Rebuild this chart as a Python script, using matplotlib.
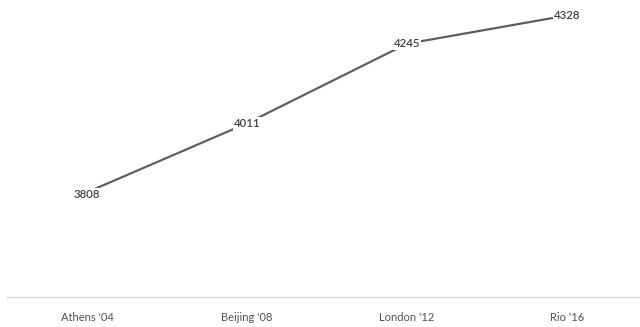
import matplotlib
matplotlib.use("Agg")
import matplotlib.pyplot as plt

categories = ["Athens '04", "Beijing '08", "London '12", "Rio '16"]
values = [3808, 4011, 4245, 4328]

plt.rcParams['font.family'] = ['Lato', 'DejaVu Sans']

fig = plt.figure(figsize=(6.4, 3.27), dpi=100)
ax = fig.add_axes([7/640, 30/327, 640/640, 289/327])
x = list(range(len(categories)))
ax.plot(x, values, color='#5f5f5f', linewidth=1.6, solid_capstyle='butt', zorder=2)
for xi, v in zip(x, values):
    dy = -1.5 if xi == 0 else 0
    ax.annotate(str(v), (xi, v), xytext=(0, dy), textcoords='offset points',
                ha='center', va='center', fontsize=8.2,
                color='#404040', fontweight='semibold',
                bbox=dict(boxstyle='square,pad=0.1', fc='white', ec='none'), zorder=3)

ax.set_xlim(-0.5, 3.5)
ax.set_ylim(3500, 4350)
ax.set_xticks(x)
ax.set_xticklabels(categories, fontsize=8, color='#505050')
ax.tick_params(axis='x', length=0, pad=11)
ax.set_yticks([])
for s in ['top', 'right', 'left']:
    ax.spines[s].set_visible(False)
ax.spines['bottom'].set_color('#d9d9d9')
ax.spines['bottom'].set_linewidth(1.0)

fig.savefig('out.png', dpi=100)
